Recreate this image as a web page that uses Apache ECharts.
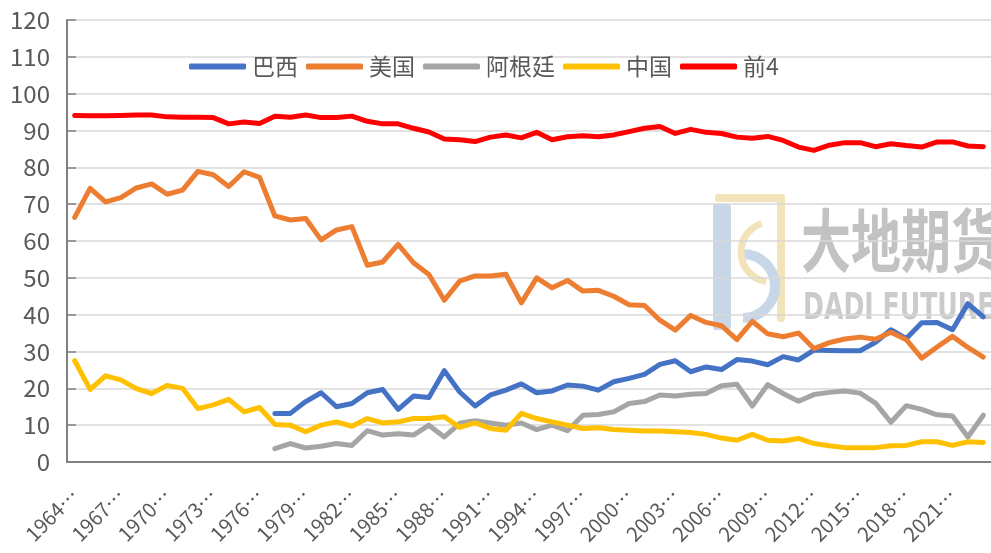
<!DOCTYPE html>
<html>
<head>
<meta charset="utf-8">
<script src="https://cdn.jsdelivr.net/npm/echarts@6/dist/echarts.min.js"></script>
<style>
  html, body { margin: 0; padding: 0; background: #fff; }
  #main { width: 991px; height: 553px; }
</style>
</head>
<body>
<div id="main"></div>
<script>
// 年度：1964/65 ~ 2023/24
const years = []
for (let y = 1964; y <= 2023; y++) {
  years.push(y + '/' + String((y + 1) % 100).padStart(2, '0'))
}

const yTicks = [0, 10, 20, 30, 40, 50, 60, 70, 80, 90, 100, 110, 120]

const brazil = [
  null, null, null, null, null, null, null, null, null, null, null, null, null,
  13.2, 13.2, 16.4, 18.8, 15.0, 15.9, 18.8, 19.7, 14.3, 17.9, 17.5, 24.8, 19.0,
  15.2, 18.2, 19.5, 21.2, 18.8, 19.3, 20.9, 20.6, 19.5, 21.8, 22.7, 23.8, 26.5,
  27.5, 24.5, 25.8, 25.1, 27.8, 27.4, 26.4, 28.6, 27.7, 30.4, 30.3, 30.2, 30.2,
  32.5, 35.9, 33.5, 37.8, 37.9, 35.9, 43.0, 39.4
]

const usa = [
  66.4, 74.3, 70.6, 71.8, 74.4, 75.5, 72.7, 73.8, 78.9, 78.0,
  74.8, 78.8, 77.3, 66.8, 65.7, 66.1, 60.3, 63.0, 63.9, 53.4,
  54.3, 59.1, 54.1, 50.9, 43.9, 49.1, 50.5, 50.5, 51.0, 43.2,
  50.0, 47.3, 49.3, 46.4, 46.6, 45.0, 42.7, 42.5, 38.5, 35.8,
  39.8, 37.9, 37.0, 33.2, 38.2, 34.8, 34.0, 35.0, 30.8, 32.4,
  33.4, 33.9, 33.3, 35.2, 33.2, 28.2, 31.2, 34.1, 31.1, 28.5
]

const argentina = [
  null, null, null, null, null, null, null, null, null, null, null, null, null,
  3.6, 5.0, 3.8, 4.3, 5.0, 4.5, 8.5, 7.3, 7.7, 7.3, 10.0, 6.8, 10.5,
  11.2, 10.6, 10.0, 10.6, 8.8, 10.0, 8.5, 12.7, 12.9, 13.6, 15.9, 16.4, 18.2,
  17.9, 18.4, 18.6, 20.7, 21.1, 15.2, 21.0, 18.6, 16.5, 18.3, 18.9, 19.3, 18.7,
  16.0, 10.8, 15.3, 14.3, 12.8, 12.5, 6.8, 12.7
]

const china = [
  27.5, 19.7, 23.4, 22.3, 19.9, 18.6, 20.8, 20.0, 14.5, 15.5,
  17.0, 13.6, 14.8, 10.2, 10.0, 8.2, 10.0, 10.9, 9.7, 11.8,
  10.6, 10.9, 11.8, 11.8, 12.3, 9.4, 10.6, 9.1, 8.6, 13.2,
  11.8, 10.9, 10.0, 9.1, 9.3, 8.8, 8.6, 8.4, 8.4, 8.2,
  8.0, 7.5, 6.5, 5.9, 7.5, 5.9, 5.7, 6.4, 5.0, 4.4,
  3.9, 3.9, 3.9, 4.4, 4.5, 5.5, 5.5, 4.5, 5.5, 5.3
]

const top4 = [
  94.1, 94.0, 94.0, 94.1, 94.2, 94.2, 93.7, 93.6, 93.6, 93.5,
  91.8, 92.3, 91.9, 93.9, 93.6, 94.2, 93.5, 93.5, 93.9, 92.5,
  91.8, 91.8, 90.6, 89.6, 87.7, 87.5, 87.0, 88.2, 88.8, 88.0,
  89.5, 87.5, 88.3, 88.6, 88.3, 88.8, 89.7, 90.6, 91.1, 89.2,
  90.3, 89.5, 89.2, 88.2, 87.9, 88.4, 87.3, 85.5, 84.6, 86.0,
  86.7, 86.7, 85.6, 86.4, 85.9, 85.5, 86.9, 86.9, 85.8, 85.6
]

const seriesNames = ['巴西', '美国', '阿根廷', '中国', '前4']
const seriesColors = ['#4472C4', '#ED7D31', '#A5A5A5', '#FFC000', '#FF0000']
const seriesData = [brazil, usa, argentina, china, top4]

const font = 'Noto Sans CJK SC'
const chart = echarts.init(document.getElementById('main'), null, { renderer: 'canvas' })

const option = {
  backgroundColor: '#fff',
  animation: false,
  textStyle: { fontFamily: font },
  legend: {
    top: 50,
    left: 184,
    icon: 'roundRect',
    itemWidth: 57,
    itemHeight: 6,
    itemGap: 8,
    textStyle: { fontSize: 23, color: '#595959', fontFamily: font, padding: [0, 0, 0, 1] },
    data: seriesNames
  },
  grid: { left: 67, right: -3, top: 20, bottom: 91 },
  xAxis: {
    type: 'category',
    data: years,
    boundaryGap: true,
    axisLine: { lineStyle: { color: '#808080', width: 2 } },
    axisTick: { inside: true, length: 8, interval: 0, lineStyle: { color: '#808080', width: 1.5 } },
    axisLabel: {
      interval: 2,
      rotate: 45,
      margin: 30,
      fontSize: 20,
      color: '#595959',
      fontFamily: font,
      formatter: v => v.slice(0, 4) + '…'
    },
    splitLine: { show: false }
  },
  yAxis: {
    type: 'value',
    min: yTicks[0],
    max: yTicks[yTicks.length - 1],
    interval: 10,
    axisLine: { show: true, lineStyle: { color: '#808080', width: 2 } },
    axisTick: { show: true, inside: true, length: 9, lineStyle: { color: '#808080', width: 1.5 } },
    axisLabel: { fontSize: 24, color: '#595959', margin: 17, fontFamily: font },
    splitLine: { lineStyle: { color: '#D9D9D9', width: 1.5 } }
  },
  graphic: [
    {
      type: 'group', left: 713, top: 194, z: -10, silent: true,
      children: [
        { type: 'rect', shape: { x: 2, y: 0, width: 70, height: 8, r: 3 },
          style: { fill: '#F1E4BA' } },
        { type: 'rect', shape: { x: 64, y: 0, width: 8, height: 128, r: 3 },
          style: { fill: '#F1E4BA' } },
        { type: 'rect', shape: { x: 0, y: 10, width: 18, height: 126, r: 3 },
          style: { fill: '#C8D7E8' } },
        { type: 'arc', shape: { cx: 30, cy: 92, r: 32, startAngle: -Math.PI / 2, endAngle: Math.PI / 2 },
          style: { fill: 'none', stroke: '#C8D7E8', lineWidth: 10 } },
        { type: 'arc', shape: { cx: 58, cy: 58, r: 30, startAngle: Math.PI * 0.55, endAngle: Math.PI * 1.4 },
          style: { fill: 'none', stroke: '#F1E4BA', lineWidth: 7 } }
      ]
    },
    {
      type: 'text', left: 801, top: 206, z: -10, silent: true, scaleY: 1.38,
      style: { text: '大地期货', fontSize: 50, fontWeight: 'bold', fill: 'rgba(165,160,160,0.65)', fontFamily: font }
    },
    {
      type: 'text', left: 803, top: 291, z: -10, silent: true, scaleY: 1.3,
      style: { text: 'DADI FUTURES', fontSize: 28, fontWeight: 'bold', fill: 'rgba(170,166,166,0.6)', fontFamily: 'DejaVu Sans Condensed' }
    }
  ],
  series: seriesNames.map((name, i) => ({
    name,
    type: 'line',
    data: seriesData[i],
    symbol: 'none',
    smooth: false,
    connectNulls: false,
    color: seriesColors[i],
    lineStyle: { width: 5, color: seriesColors[i], cap: 'round', join: 'round' }
  }))
}

chart.setOption(option)
</script>
</body>
</html>
